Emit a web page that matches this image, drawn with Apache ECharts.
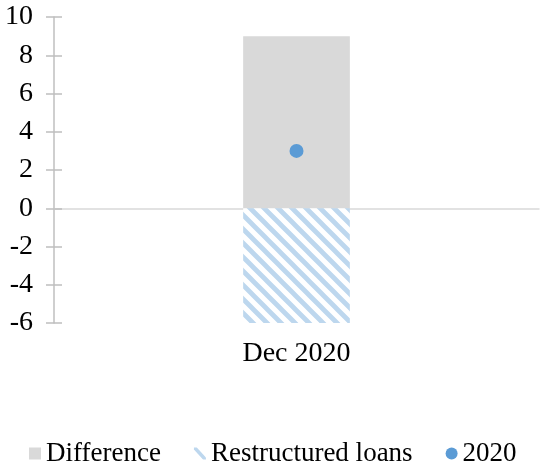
<!DOCTYPE html>
<html>
<head>
<meta charset="utf-8">
<script src="https://cdn.jsdelivr.net/npm/echarts@6/dist/echarts.min.js"></script>
<style>
  html, body { margin: 0; padding: 0; background: #fff; }
  #chart { width: 550px; height: 474px; }
</style>
</head>
<body>
<div id="chart"></div>
<script>
const categories = ['Dec 2020']
const difference = [9]
const restructured = [-6]
const year2020 = [3]

// diagonal stripes for the restructured loans bar
function stripes() {
  const s = 14
  const c = document.createElement('canvas')
  c.width = s
  c.height = s
  const ctx = c.getContext('2d')
  ctx.fillStyle = '#fff'
  ctx.fillRect(0, 0, s, s)
  ctx.strokeStyle = '#bdd7ee'
  ctx.lineWidth = 4.8
  ctx.beginPath()
  ctx.moveTo(-4, -4); ctx.lineTo(s + 4, s + 4)
  ctx.moveTo(-4, s - 4); ctx.lineTo(4, s + 4)
  ctx.moveTo(s - 4, -4); ctx.lineTo(s + 4, 4)
  ctx.stroke()
  return c
}

const chart = echarts.init(document.getElementById('chart'))
const font = 'Liberation Serif'
chart.setOption({
  animation: false,
  textStyle: { fontFamily: font },
  grid: { left: 54, right: 11, top: 17, bottom: 151, containLabel: false },
  legend: {
    bottom: 2,
    left: 24,
    itemWidth: 12,
    itemHeight: 12,
    itemGap: 33,
    textStyle: { fontFamily: font, fontSize: 27, color: '#000' },
    data: [
      { name: 'Difference', icon: 'rect' },
      { name: 'Restructured loans', icon: 'path://M0,0 L3,0 L12,10 L12,12 L9,12 L0,2 Z' },
      { name: '2020', icon: 'circle' }
    ]
  },
  xAxis: {
    type: 'category',
    data: categories,
    axisLine: { onZero: true, lineStyle: { color: '#d9d9d9', width: 1.5 } },
    axisTick: { show: false },
    axisLabel: {
      interval: 0,
      fontFamily: font,
      fontSize: 28,
      color: '#000',
      margin: 17
    }
  },
  yAxis: [
    {
      type: 'value',
      min: -6,
      max: 10,
      interval: 2,
      axisLine: { show: true, lineStyle: { color: '#bfbfbf', width: 1.5 } },
      axisTick: { show: true, length: 8, lineStyle: { color: '#bfbfbf', width: 1.5 } },
      axisLabel: { fontFamily: font, fontSize: 28, color: '#000', margin: 21 },
      splitLine: { show: false }
    },
    {
      type: 'value',
      position: 'left',
      min: -6,
      max: 10,
      interval: 2,
      axisLine: { show: false },
      axisTick: { show: true, inside: true, length: 8, lineStyle: { color: '#bfbfbf', width: 1.5 } },
      axisLabel: { show: false },
      splitLine: { show: false }
    }
  ],
  series: [
    {
      name: 'Difference',
      type: 'bar',
      stack: 'a',
      barWidth: '22%',
      data: difference,
      itemStyle: { color: '#d9d9d9' }
    },
    {
      name: 'Restructured loans',
      type: 'bar',
      stack: 'a',
      barWidth: '22%',
      data: restructured,
      itemStyle: { color: { image: stripes(), repeat: 'repeat' } }
    },
    {
      name: '2020',
      type: 'scatter',
      symbolSize: 14,
      data: year2020,
      itemStyle: { color: '#5b9bd5', opacity: 1 },
      z: 5
    }
  ]
})
</script>
</body>
</html>
